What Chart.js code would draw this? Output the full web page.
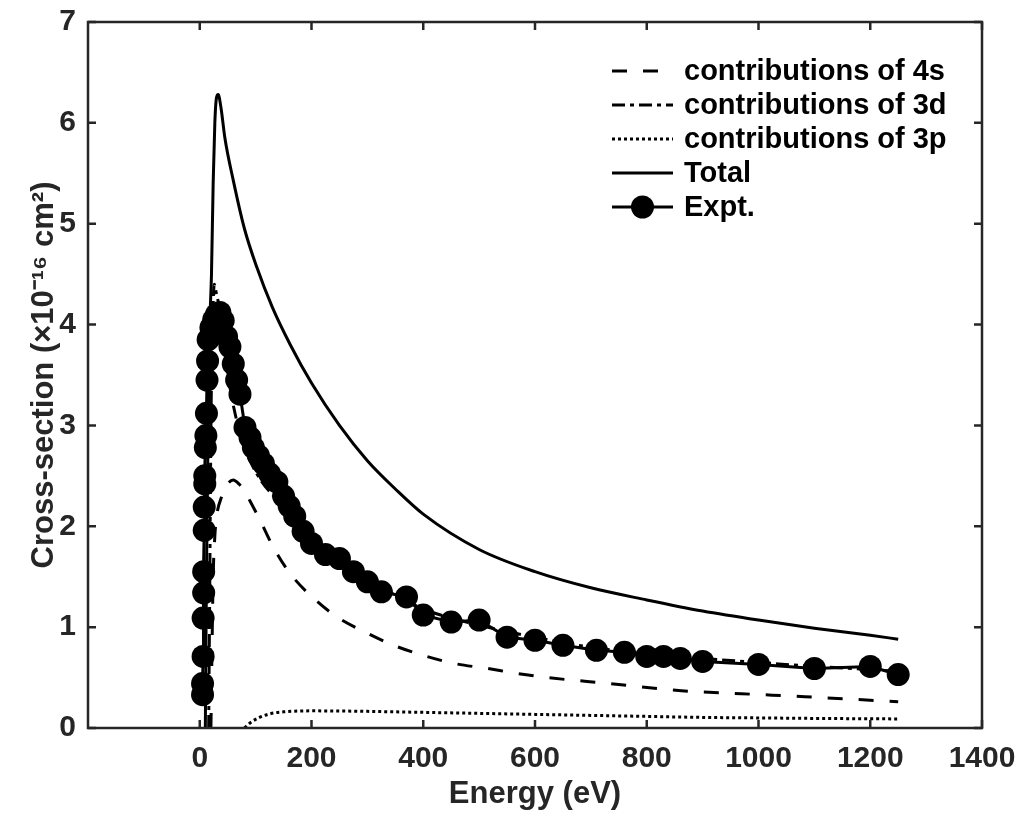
<!DOCTYPE html>
<html>
<head>
<meta charset="utf-8">
<script src="https://cdn.jsdelivr.net/npm/chart.js@4"></script>
<style>
  body { margin: 0; background: #fff; }
  #wrap { width: 1024px; height: 814px; }
</style>
</head>
<body>
<div id="wrap"><canvas id="myChart" width="1024" height="814"></canvas></div>
<script>
// energies (eV) and cross-sections (1e-16 cm^2)
const e4s = [20, 22, 24, 27, 30, 39, 50, 60, 70, 80, 90, 108, 131, 162, 201, 246, 300, 347, 400, 455, 515, 569, 622, 736, 862, 969, 1083, 1250];
const v4s = [0, 0.8, 1.5, 1.9, 2.09, 2.29, 2.42, 2.46, 2.42, 2.35, 2.25, 2.06, 1.8, 1.53, 1.3, 1.1, 0.94, 0.82, 0.72, 0.64, 0.59, 0.54, 0.5, 0.44, 0.37, 0.34, 0.31, 0.26];

const e3d = [16, 18, 20, 23, 26, 30, 36, 45, 55, 66, 75, 90, 110, 140, 170, 200, 250, 300, 350, 400, 500, 600, 700, 800, 900, 1000, 1100, 1200, 1250];
const v3d = [0, 1.5, 3.0, 4.0, 4.4, 4.3, 4.15, 3.75, 3.35, 3.05, 2.85, 2.65, 2.45, 2.25, 2.05, 1.87, 1.66, 1.47, 1.32, 1.18, 1.02, 0.9, 0.8, 0.74, 0.69, 0.65, 0.61, 0.58, 0.56];

const e3p = [80, 90, 105, 125, 150, 200, 300, 400, 500, 600, 700, 800, 900, 1000, 1100, 1250];
const v3p = [0, 0.05, 0.1, 0.14, 0.16, 0.17, 0.165, 0.155, 0.145, 0.135, 0.125, 0.115, 0.105, 0.1, 0.095, 0.09];

const eTot = [10, 12, 15, 18, 21, 24, 27, 30, 33, 38, 45, 60, 80, 102, 130, 162, 200, 250, 300, 350, 400, 500, 600, 700, 800, 900, 1000, 1100, 1200, 1250];
const vTot = [0, 1.5, 3.0, 4.0, 4.5, 5.4, 6.0, 6.25, 6.28, 6.15, 5.85, 5.43, 4.95, 4.57, 4.17, 3.8, 3.42, 3.0, 2.65, 2.37, 2.12, 1.77, 1.55, 1.39, 1.27, 1.16, 1.07, 0.99, 0.92, 0.88];

const eExp = [5, 5, 6, 6, 7, 7, 8, 8, 9, 9, 10, 11, 12, 13, 14, 15, 20, 25, 30, 36, 42, 48, 54, 60, 66, 72, 81, 90, 96, 105, 114, 125, 138, 150, 160, 170, 185, 200, 225, 250, 275, 300, 325, 370, 400, 450, 500, 550, 600, 650, 710, 760, 800, 830, 860, 900, 1000, 1100, 1200, 1250];
const vExp = [0.33, 0.44, 0.71, 1.09, 1.34, 1.55, 1.96, 2.19, 2.42, 2.5, 2.78, 2.9, 3.12, 3.45, 3.64, 3.85, 3.97, 4.05, 4.1, 4.12, 4.04, 3.88, 3.78, 3.61, 3.45, 3.31, 2.98, 2.88, 2.78, 2.7, 2.62, 2.52, 2.44, 2.3, 2.2, 2.1, 1.95, 1.83, 1.72, 1.68, 1.55, 1.45, 1.35, 1.3, 1.12, 1.05, 1.07, 0.9, 0.87, 0.82, 0.77, 0.75, 0.71, 0.71, 0.69, 0.66, 0.63, 0.59, 0.61, 0.53];

const xTicks = [0, 200, 400, 600, 800, 1000, 1200, 1400];
const yTicks = [0, 1, 2, 3, 4, 5, 6, 7];

const ink = '#262626';
const family = 'Liberation Sans, Arial, sans-serif';
const tickFont = { family: family, weight: 'bold', size: 30 };
const titleFont = { family: family, weight: 'bold', size: 31 };

function pts(xs, ys) {
    return xs.map((x, i) => ({ x: x, y: ys[i] }));
}

// box, inward ticks and the legend, MATLAB style
const frame = {
    id: 'frame',
    afterDatasetsDraw(chart) {
        const { ctx, chartArea: a, scales: { x, y } } = chart;
        ctx.save();
        ctx.strokeStyle = ink;
        ctx.lineWidth = 2.5;
        ctx.setLineDash([]);
        ctx.strokeRect(a.left, a.top, a.right - a.left, a.bottom - a.top);
        ctx.beginPath();
        xTicks.forEach(t => {
            const px = x.getPixelForValue(t);
            ctx.moveTo(px, a.bottom); ctx.lineTo(px, a.bottom - 8);
            ctx.moveTo(px, a.top); ctx.lineTo(px, a.top + 8);
        });
        yTicks.forEach(t => {
            const py = y.getPixelForValue(t);
            ctx.moveTo(a.left, py); ctx.lineTo(a.left + 8, py);
            ctx.moveTo(a.right, py); ctx.lineTo(a.right - 8, py);
        });
        ctx.stroke();

        // legend
        const x0 = a.left + 524, x1 = a.left + 585, tx = a.left + 596;
        let ry = a.top + 49;
        chart.data.datasets.forEach(ds => {
            ctx.strokeStyle = '#000';
            ctx.lineWidth = ds.borderWidth;
            ctx.setLineDash(ds.borderDash || []);
            ctx.beginPath();
            ctx.moveTo(x0, ry); ctx.lineTo(x1, ry);
            ctx.stroke();
            ctx.setLineDash([]);
            if (ds.pointRadius > 0) {
                ctx.fillStyle = '#000';
                ctx.beginPath();
                ctx.arc((x0 + x1) / 2, ry, ds.pointRadius, 0, Math.PI * 2);
                ctx.fill();
            }
            ctx.fillStyle = '#000';
            ctx.font = 'bold 29px ' + family;
            ctx.textBaseline = 'middle';
            ctx.fillText(ds.label, tx, ry + 1);
            ry += 34;
        });
        ctx.restore();
    }
};

const ctx = document.getElementById('myChart').getContext('2d');
const chart = new Chart(ctx, {
    type: 'line',
    data: {
        datasets: [
            {
                label: 'contributions of 4s',
                data: pts(e4s, v4s),
                borderColor: '#000', borderWidth: 3, borderDash: [15, 16],
                pointRadius: 0, cubicInterpolationMode: 'monotone', order: 1
            },
            {
                label: 'contributions of 3d',
                data: pts(e3d, v3d),
                borderColor: '#000', borderWidth: 3, borderDash: [13, 5, 4, 5],
                pointRadius: 0, cubicInterpolationMode: 'monotone', order: 2
            },
            {
                label: 'contributions of 3p',
                data: pts(e3p, v3p),
                borderColor: '#000', borderWidth: 3, borderDash: [3, 3],
                pointRadius: 0, cubicInterpolationMode: 'monotone', order: 1
            },
            {
                label: 'Total',
                data: pts(eTot, vTot),
                borderColor: '#000', borderWidth: 3,
                pointRadius: 0, cubicInterpolationMode: 'monotone', order: 1
            },
            {
                label: 'Expt.',
                data: pts(eExp, vExp),
                borderColor: '#000', borderWidth: 3,
                backgroundColor: '#000',
                pointRadius: 11.5, pointBorderWidth: 0, pointBackgroundColor: '#000',
                tension: 0, order: 0
            }
        ]
    },
    options: {
        responsive: false,
        animation: false,
        layout: { padding: { left: 0, top: 22, right: 42, bottom: 0 } },
        plugins: { legend: { display: false }, tooltip: { enabled: false } },
        scales: {
            x: {
                type: 'linear',
                min: -200, max: 1400,
                afterBuildTicks: s => { s.ticks = xTicks.map(v => ({ value: v })); },
                afterFit: s => { s.height = 86; s.paddingLeft = 0; s.paddingRight = 0; },
                grid: { display: false, drawTicks: false },
                border: { display: false },
                ticks: { font: tickFont, color: ink, padding: 13, maxRotation: 0, callback: v => String(v) },
                title: { display: true, text: 'Energy (eV)', font: titleFont, color: ink, padding: { top: 0, bottom: 1 } }
            },
            y: {
                min: 0, max: 7,
                afterBuildTicks: s => { s.ticks = yTicks.map(v => ({ value: v })); },
                afterFit: s => { s.width = 88; s.paddingTop = 0; s.paddingBottom = 0; },
                grid: { display: false, drawTicks: false },
                border: { display: false },
                ticks: { font: tickFont, color: ink, padding: 12, callback: v => String(v) },
                title: { display: true, text: 'Cross-section (×10⁻¹⁶ cm²)', font: titleFont, color: ink, padding: { top: 26, bottom: 0 } }
            }
        }
    },
    plugins: [frame]
});
</script>
</body>
</html>
